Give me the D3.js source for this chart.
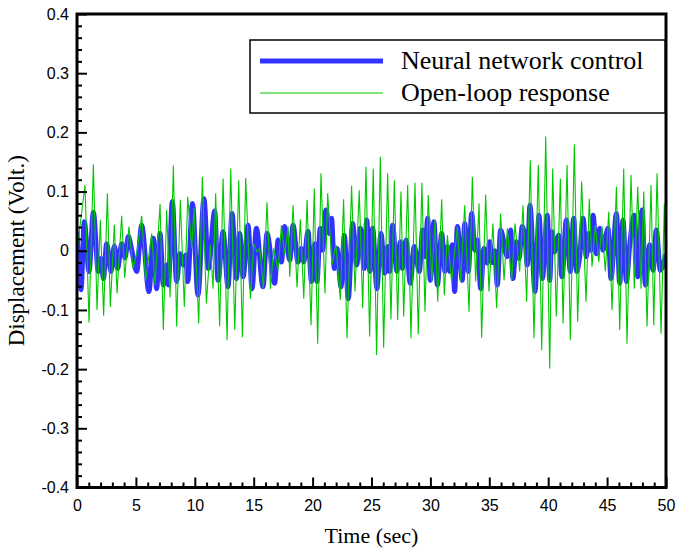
<!DOCTYPE html>
<html><head><meta charset="utf-8">
<script src="https://cdn.jsdelivr.net/npm/d3@7"></script>
<style>body{margin:0;background:#fff}svg{display:block}</style>
</head><body>
<script>
// ---- data ----
const openLoopTime = [0,0.68,1.02,1.39,1.70,1.98,2.26,2.58,2.83,3.17,3.40,3.79,4.05,4.41,4.75,5.09,5.49,5.83,6.34,6.62,7.05,7.33,7.61,7.90,8.18,8.46,8.77,9.11,9.40,9.74,9.93,
10.33,10.64,10.98,11.32,11.55,11.77,12.11,12.40,12.74,13.05,13.39,13.73,14.04,14.32,14.72,15.00,15.28,15.51,15.82,16.13,16.42,16.70,17.07,17.35,17.63,17.92,18.06,18.34,18.68,18.96,19.25,19.53,19.87,
20.14,20.43,20.71,21.05,21.28,21.64,21.98,22.35,22.63,22.92,23.31,23.60,23.96,24.25,24.53,24.84,25.15,25.43,25.75,26.03,26.37,26.65,26.94,27.22,27.50,27.73,28.07,28.35,28.69,28.97,29.28,29.54,29.82,
30.11,30.39,30.62,30.96,31.18,31.44,31.80,32.29,32.57,32.91,33.28,33.56,33.84,34.13,34.35,34.69,34.97,35.31,35.62,35.96,36.25,36.53,36.90,37.18,37.58,37.86,38.17,38.48,38.79,39.16,39.45,39.79,
40.13,40.38,40.69,41.03,41.26,41.60,41.88,42.22,42.50,42.84,43.21,43.49,43.72,44.00,44.29,44.57,44.85,45.14,45.42,45.79,46.07,46.41,46.69,47.03,47.31,47.60,47.88,48.11,48.39,48.73,48.96,49.24,49.58,49.86,50.00];
const openLoopValue = [0,0.111,-0.121,0.146,-0.100,0.052,-0.110,0.097,-0.095,0.044,-0.072,0.059,-0.046,0.041,-0.030,-0.002,0.059,-0.050,0.029,-0.058,0.079,-0.134,0.069,-0.079,0.144,-0.128,0.086,-0.095,0.091,0.004,0.072,
-0.123,0.125,-0.089,0.010,-0.064,0.097,-0.128,0.122,-0.151,0.139,-0.134,0.119,-0.146,0.123,-0.081,0.012,-0.002,0.004,-0.064,0.082,-0.064,0.004,-0.033,0.043,-0.007,0.041,-0.044,0.077,-0.062,0.053,-0.081,0.086,-0.126,
0.105,-0.157,0.131,-0.072,0.097,-0.024,0.010,-0.083,0.087,-0.148,0.110,-0.069,0.102,-0.097,0.142,-0.145,0.139,-0.176,0.159,-0.164,0.131,-0.116,0.119,-0.117,0.100,-0.111,0.111,-0.148,0.115,-0.141,0.115,-0.103,0.094,
-0.052,0.052,-0.086,0.087,-0.075,0.026,-0.052,0.041,-0.052,0.077,-0.103,0.125,-0.052,0.080,-0.147,0.095,-0.069,0.046,-0.097,0.063,-0.050,0.038,-0.050,0.046,-0.035,0.077,-0.086,0.153,-0.148,0.145,-0.168,0.193,
-0.199,0.139,-0.111,0.122,-0.123,0.145,-0.151,0.180,-0.120,0.117,-0.086,0.088,-0.027,0.043,-0.019,0.041,-0.035,0.066,-0.100,0.108,-0.134,0.139,-0.157,0.128,-0.064,0.108,-0.064,0.100,-0.128,0.111,-0.126,0.131,-0.140,0.080,-0.086];

const nnTime = [0,0.34,0.62,1.02,1.39,1.81,2.04,2.24,2.52,2.89,3.17,3.45,3.79,4.08,4.36,4.64,5.07,5.49,6.11,6.48,6.76,7.05,7.33,7.61,7.75,8.09,8.46,8.74,9.03,9.23,9.40,9.80,
10.27,10.78,11.15,11.69,11.97,12.40,12.82,13.16,13.53,13.81,14.10,14.52,14.86,15.23,15.79,16.13,16.78,17.07,17.35,17.63,18.06,18.34,18.76,19.05,19.25,19.61,19.90,
20.20,20.37,20.65,20.85,21.13,21.42,21.61,21.84,22.07,22.41,22.69,23.03,23.40,23.74,24.05,24.39,24.59,24.87,25.10,25.46,25.80,26.14,26.37,26.54,26.79,27.16,27.44,27.64,27.93,28.29,28.63,29.06,29.34,29.55,29.77,29.99,
30.30,30.59,30.96,31.24,31.44,31.63,31.86,32.06,32.29,32.71,32.91,33.22,33.50,33.79,33.98,34.27,34.55,34.83,35.03,35.25,35.45,35.68,35.96,36.53,36.81,37.01,37.29,37.52,37.80,38.03,38.23,38.45,38.88,39.22,39.50,39.93,
40.13,40.32,40.52,40.89,41.17,41.54,41.88,42.16,42.42,42.67,42.96,43.24,43.44,43.64,43.81,44.09,44.37,44.65,45.08,45.33,45.79,46.07,46.35,46.64,46.92,47.31,47.60,47.97,48.25,48.62,48.90,49.18,49.52,50.00];
const nnValue = [0.032,-0.066,0.049,-0.035,0.065,-0.035,-0.013,-0.047,0.012,-0.035,0.008,-0.030,0.012,-0.012,0.024,0.002,-0.035,0.043,-0.069,0.021,-0.064,0.029,-0.058,-0.024,-0.058,0.083,-0.052,-0.005,-0.024,-0.007,-0.052,0.080,
-0.075,0.088,-0.030,0.067,-0.050,0.032,-0.061,0.063,-0.047,0.029,-0.044,0.043,-0.064,0.038,-0.061,0.029,-0.055,0.018,-0.019,0.041,-0.016,0.043,-0.019,0.004,-0.019,0.033,-0.052,
0.012,-0.052,0.038,0.001,0.069,0.029,0.055,-0.030,0.004,-0.061,0.026,-0.081,0.046,-0.024,0.038,-0.030,0.052,-0.035,0.038,-0.064,0.029,-0.038,0.007,-0.035,0.043,-0.035,0.015,-0.030,0.018,-0.055,0.007,-0.035,0.035,-0.010,0.055,-0.050,
0.049,-0.058,0.029,-0.035,0.007,-0.035,0.010,-0.069,0.041,-0.050,0.046,-0.035,0.063,0.001,0.018,-0.064,0.004,-0.021,0.015,-0.020,0.000,-0.058,0.035,-0.010,0.035,-0.047,0.015,-0.013,0.041,0.021,-0.024,0.077,-0.069,0.060,-0.047,0.060,
-0.050,0.032,-0.002,0.026,-0.044,0.052,-0.035,0.055,-0.035,-0.010,0.055,-0.010,0.029,0.001,0.060,-0.005,0.038,0.001,0.038,-0.047,0.063,-0.055,0.052,-0.052,0.010,0.060,-0.044,0.069,-0.058,0.010,-0.033,0.035,-0.033,-0.005];

const xMajor = [0,5,10,15,20,25,30,35,40,45,50];
const yMajor = [-0.4,-0.3,-0.2,-0.1,0,0.1,0.2,0.3,0.4];
const seriesNames = ["Neural network control","Open-loop response"];

// ---- drawing ----
const W=676,H=550, L=77, R=666, T=14, B=487.5;
const svg = d3.select("body").append("svg").attr("width",W).attr("height",H);
const x = d3.scaleLinear().domain([0,50]).range([L,R]);
const y = d3.scaleLinear().domain([-0.4,0.4]).range([B,T]);

const xMinor = d3.range(0,51,1).filter(v=>v%5!==0);
const yMinor = d3.range(-40,41,2).filter(v=>v%10!==0).map(v=>v/100);
const fmt = d=> Math.abs(d)<1e-9 ? "0" : d.toFixed(1);

svg.append("defs").append("clipPath").attr("id","clip")
  .append("rect").attr("x",L).attr("y",T).attr("width",R-L).attr("height",B-T);

const nn = nnTime.map((t,i)=>[t,nnValue[i]]);
const ol = openLoopTime.map((t,i)=>[t,openLoopValue[i]]);

const g = svg.append("g").attr("clip-path","url(#clip)");
g.append("path").datum(nn)
  .attr("d", d3.line().x(d=>x(d[0])).y(d=>y(d[1])).curve(d3.curveMonotoneX))
  .attr("fill","none").attr("stroke","#3232ff").attr("stroke-width",5).attr("stroke-linejoin","round");
g.append("path").datum(ol)
  .attr("d", d3.line().x(d=>x(d[0])).y(d=>y(d[1])))
  .attr("fill","none").attr("stroke","#00c800").attr("stroke-width",1.1);

function styleAxis(sel){
  sel.select(".domain").remove();
  sel.selectAll("line").attr("stroke","#000").attr("stroke-width",2);
  sel.selectAll("text").attr("font-family","'Liberation Sans', Arial, sans-serif").attr("font-size",16).attr("fill","#000");
}
svg.append("g").attr("transform",`translate(${L},0)`)
  .call(d3.axisLeft(y).tickValues(yMajor).tickSize(-10).tickPadding(8).tickFormat(fmt)).call(styleAxis);
svg.append("g").attr("transform",`translate(${L},0)`)
  .call(d3.axisLeft(y).tickValues(yMinor).tickSize(-5).tickFormat("")).call(styleAxis);
svg.append("g").attr("transform",`translate(0,${B})`)
  .call(d3.axisBottom(x).tickValues(xMajor).tickSize(-10).tickPadding(12).tickFormat(d3.format("d"))).call(styleAxis);
svg.append("g").attr("transform",`translate(0,${B})`)
  .call(d3.axisBottom(x).tickValues(xMinor).tickSize(-5).tickFormat("")).call(styleAxis);

svg.append("rect").attr("x",L).attr("y",T).attr("width",R-L).attr("height",B-T)
  .attr("fill","none").attr("stroke","#000").attr("stroke-width",3);

const serif = "'Liberation Serif', 'Times New Roman', serif";
svg.append("text").attr("x",(L+R)/2).attr("y",543).attr("text-anchor","middle")
  .attr("font-family",serif).attr("font-size",22).text("Time (sec)");
svg.append("text").attr("transform",`translate(24,${(T+B)/2}) rotate(-90)`).attr("text-anchor","middle")
  .attr("font-family",serif).attr("font-size",23).text("Displacement (Volt.)");

// legend
const lg = svg.append("g");
lg.append("rect").attr("x",250).attr("y",40).attr("width",415).attr("height",73)
  .attr("fill","#fff").attr("stroke","#000").attr("stroke-width",1.5);
const colors = ["#3232ff","#00c800"], widths=[5,1.1], ly=[61,93];
seriesNames.forEach((n,i)=>{
  lg.append("line").attr("x1",260).attr("x2",383).attr("y1",ly[i]).attr("y2",ly[i])
    .attr("stroke",colors[i]).attr("stroke-width",widths[i]);
  lg.append("text").attr("x",401).attr("y",ly[i]+8).attr("font-family",serif).attr("font-size",26).text(n);
});
</script>
</body></html>
